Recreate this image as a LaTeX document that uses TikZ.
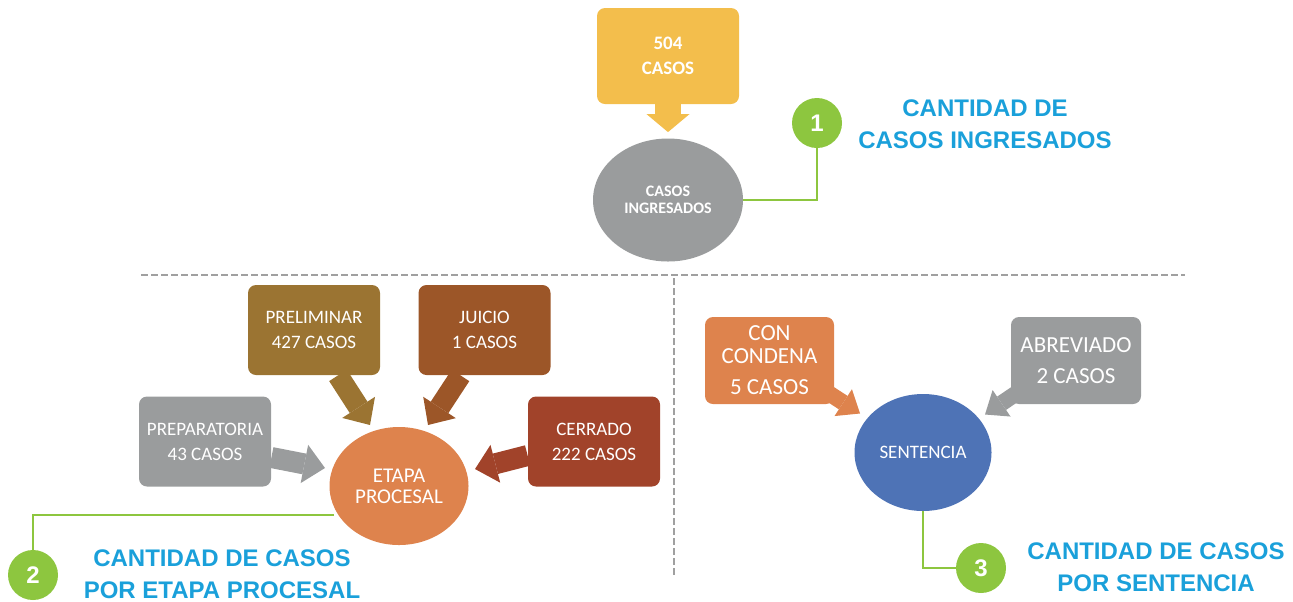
\documentclass[tikz,border=0pt]{standalone}
\usepackage{fontspec}
\setmainfont{Carlito}
\newfontfamily\headfont{Liberation Sans}
\usetikzlibrary{calc,arrows.meta,shapes.geometric,backgrounds}

\definecolor{casoyellow}{HTML}{F3BE4C}
\definecolor{casogray}{HTML}{9A9C9D}
\definecolor{casoolive}{HTML}{9B7432}
\definecolor{casobrown}{HTML}{9C5628}
\definecolor{casored}{HTML}{A1432A}
\definecolor{casoorange}{HTML}{DE834D}
\definecolor{casoblue}{HTML}{4E73B6}
\definecolor{casogreen}{HTML}{8DC63F}
\definecolor{headblue}{HTML}{1AA0DA}
\definecolor{dashgray}{HTML}{A0A0A0}

\tikzset{
  stagebox/.style={rectangle, rounded corners=4pt, text=white, align=center,
    minimum width=66pt, minimum height=45pt, inner sep=0pt,
    font=\fontsize{9.5}{12.5}\selectfont},
  hub/.style={ellipse, text=white, align=center, inner sep=0pt},
  fat/.style={line width=10.5pt, -{Triangle[width=19.5pt,length=10.5pt,line width=0pt]}},
  thin arrow/.style={line width=8pt, -{Triangle[width=16pt,length=10pt,line width=0pt]}},
  badge/.style={circle, fill=casogreen, text=white, minimum size=25pt, inner sep=0pt,
    font=\headfont\bfseries\fontsize{12}{12}\selectfont},
  heading/.style={text=headblue, align=center, inner sep=0pt,
    font=\headfont\bfseries\fontsize{12}{16}\selectfont},
  leader/.style={casogreen, line width=1.3pt},
  divider/.style={dashgray, line width=1pt, dash pattern=on 3.5pt off 1.5pt}
}

\begin{document}
\begin{tikzpicture}[x=0.5pt, y=-0.5pt]
  \useasboundingbox (0,0) rectangle (1293,601);

  % casos ingresados
  \node[stagebox, fill=casoyellow, minimum width=71pt, minimum height=48pt,
    font=\bfseries\fontsize{9.5}{12.5}\selectfont] (total) at (668,56) {504\\CASOS};
  \node[hub, fill=casogray, minimum width=75pt, minimum height=61.5pt,
    font=\bfseries\fontsize{8}{8.5}\selectfont] (ingresados) at (668,200) {CASOS\\INGRESADOS};
  \node[badge] (uno) at (817,123) {1};
  \node[heading] (titulouno) at (985,124) {CANTIDAD DE\\CASOS INGRESADOS};

  % separadores
  \draw[divider] (141,275) -- (1185,275);
  \draw[divider] (674,278) -- (674,577);

  % etapa procesal
  \foreach \name/\x/\y/\col/\txt in {prelim/314/330/casoolive/{PRELIMINAR\\427 CASOS},
      juicio/484.5/330/casobrown/{JUICIO\\1 CASOS},
      prep/205/441.5/casogray/{PREPARATORIA\\43 CASOS},
      cerrado/594/441.5/casored/{CERRADO\\222 CASOS}}
    \node[stagebox, fill=\col] (\name) at (\x,\y) {\txt};
  \node[hub, fill=casoorange, minimum width=69.5pt, minimum height=59pt,
    font=\fontsize{10.5}{10.5}\selectfont] (etapa) at (399,486) {ETAPA\\PROCESAL};
  \node[badge] (dos) at (33,575) {2};
  \node[heading] (titulodos) at (222,574) {CANTIDAD DE CASOS\\POR ETAPA PROCESAL};

  % sentencia
  \node[stagebox, fill=casoorange, minimum width=64.5pt, minimum height=43.5pt,
    font=\fontsize{11.5}{11.5}\selectfont] (condena) at (769.5,360.5) {CON\\CONDENA\\[4pt]5 CASOS};
  \node[stagebox, fill=casogray, minimum width=65pt, minimum height=43.5pt,
    font=\fontsize{11.5}{15.5}\selectfont] (abreviado) at (1076,360.5) {ABREVIADO\\2 CASOS};
  \node[hub, fill=casoblue, minimum width=68.5pt, minimum height=58.5pt,
    font=\fontsize{9.5}{9.5}\selectfont] (sentencia) at (923,452.5) {SENTENCIA};
  \node[badge] (tres) at (981,568) {3};
  \node[heading] (titulotres) at (1156,567) {CANTIDAD DE CASOS\\POR SENTENCIA};

  % flechas
  \begin{scope}[on background layer]
    \draw[fat, casoyellow, line width=13pt, -{Triangle[width=21.5pt,length=9pt,line width=0pt]}]
      (total.south) -- ($(ingresados.north)+(0,-6)$);
    \draw[fat, casoolive] ($(prelim.south)+(24,0)$) -- ($(etapa.center)+(-29,-61)$);
    \draw[fat, casobrown] ($(juicio.south)+(-24,0)$) -- ($(etapa.center)+(29,-61)$);
    \draw[fat, casogray] ($(prep.east)+(0,16)$) -- ($(etapa.center)+(-74,-18)$);
    \draw[fat, casored] ($(cerrado.west)+(0,14)$) -- ($(etapa.center)+(76,-17)$);
    \draw[thin arrow, casoorange] ($(condena.south east)+(-10,-14)$) -- ($(sentencia.center)+(-63,-39)$);
    \draw[thin arrow, casogray] ($(abreviado.south west)+(10,-14)$) -- ($(sentencia.center)+(62,-38)$);
  \end{scope}

  % guias
  \draw[leader] (ingresados.east) -| (uno);
  \draw[leader] ($(etapa.center)+(-65,29)$) -| (dos);
  \draw[leader] (sentencia.south) |- (tres);
\end{tikzpicture}
\end{document}
